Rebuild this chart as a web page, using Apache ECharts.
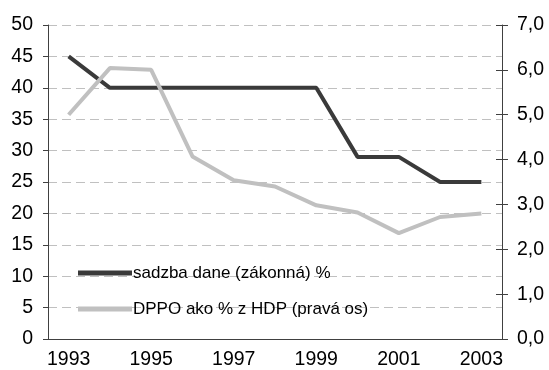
<!DOCTYPE html>
<html>
<head>
<meta charset="utf-8">
<script src="https://cdn.jsdelivr.net/npm/echarts@6/dist/echarts.min.js"></script>
<style>html,body{margin:0;padding:0;background:#fff;}#c{width:549px;height:370px;}</style>
</head>
<body>
<div id="c"></div>
<script>
var years = ['1993','1994','1995','1996','1997','1998','1999','2000','2001','2002','2003'];
var taxRate = [45, 40, 40, 40, 40, 40, 40, 29, 29, 25, 25];
var ctGdp = [5.0, 6.04, 6.0, 4.07, 3.54, 3.4, 2.98, 2.82, 2.36, 2.72, 2.8];
var seriesNames = ['sadzba dane (zákonná) %', 'DPPO ako % z HDP (pravá os)'];

var font = 'Liberation Sans, Arial, sans-serif';
var axisColor = '#404040';
var axisFont = 19.5;
var chart = echarts.init(document.getElementById('c'), null, {renderer: 'canvas'});
chart.setOption({
  animation: false,
  backgroundColor: '#fff',
  grid: {left: 48, right: 47, top: 25, bottom: 31, containLabel: false},
  legend: {
    orient: 'vertical', left: 73, top: 258,
    icon: 'rect', itemWidth: 54, itemHeight: 5, itemGap: 16,
    textStyle: {fontFamily: font, fontSize: 17, lineHeight: 20, color: '#000', padding: [0,0,0,-4]},
    data: seriesNames
  },
  xAxis: {
    type: 'category', data: years, boundaryGap: true,
    axisLine: {onZero: false, lineStyle: {color: axisColor, width: 1}},
    axisTick: {interval: 0, length: 5, lineStyle: {color: axisColor}},
    axisLabel: {interval: 1, margin: 11, fontFamily: font, fontSize: axisFont, color: '#000'},
    splitLine: {show: false}
  },
  yAxis: [
    {
      type: 'value', position: 'left', min: 0, max: 50, interval: 5,
      axisLine: {show: true, lineStyle: {color: axisColor}},
      axisTick: {show: true, length: 5, lineStyle: {color: axisColor}},
      axisLabel: {margin: 15, fontFamily: font, fontSize: axisFont, color: '#000'},
      splitLine: {show: true, lineStyle: {color: '#c0c0c0', type: [9, 5], width: 1}}
    },
    {
      type: 'value', position: 'right', min: 0, max: 7, interval: 1,
      axisLine: {show: true, lineStyle: {color: axisColor}},
      axisTick: {show: true, length: 6, lineStyle: {color: axisColor}},
      axisLabel: {margin: 15, fontFamily: font, fontSize: axisFont, color: '#000',
        formatter: function (v) { return v.toFixed(1).replace('.', ','); }},
      splitLine: {show: false}
    },
    {
      type: 'value', position: 'right', min: 0, max: 7, interval: 1,
      axisLine: {show: false},
      axisTick: {show: true, inside: true, length: 6, lineStyle: {color: axisColor}},
      axisLabel: {show: false},
      splitLine: {show: false}
    }
  ],
  series: [
    {
      name: seriesNames[0], type: 'line', yAxisIndex: 0, data: taxRate,
      symbol: 'none', lineStyle: {color: '#3a3a3a', width: 4}, itemStyle: {color: '#3a3a3a'}
    },
    {
      name: seriesNames[1], type: 'line', yAxisIndex: 1, data: ctGdp,
      symbol: 'none', lineStyle: {color: '#c0c0c0', width: 4}, itemStyle: {color: '#c0c0c0'}
    }
  ]
});
</script>
</body>
</html>
